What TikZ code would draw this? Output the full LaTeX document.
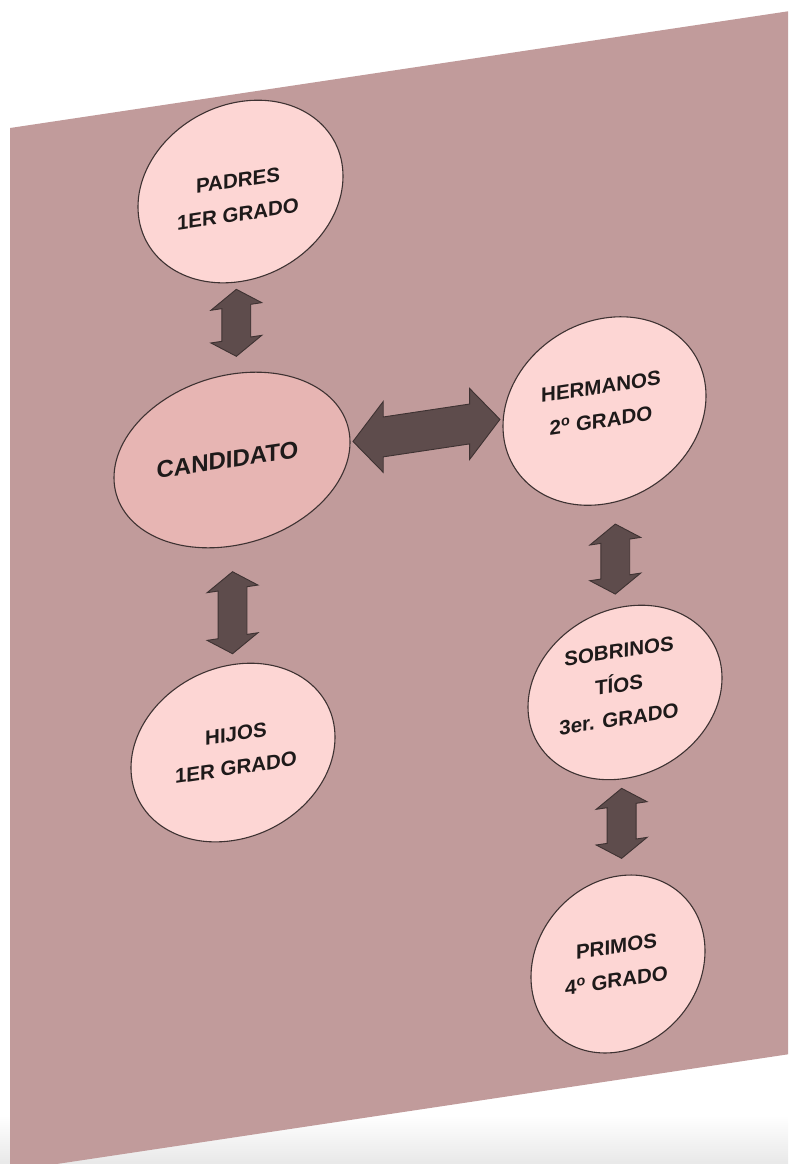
\documentclass[tikz,border=0pt]{standalone}
\usepackage{fontspec}
\setmainfont{Liberation Sans}
\usetikzlibrary{shapes.geometric,shapes.arrows,calc}
\definecolor{slide}{HTML}{C19B9B}
\definecolor{bubblefill}{HTML}{FDD6D4}
\definecolor{candfill}{HTML}{E7B5B3}
\definecolor{arrowfill}{HTML}{5E4C4C}
\definecolor{edge}{HTML}{3E3232}
\definecolor{ink}{HTML}{1E1A1A}
\begin{document}
\begin{tikzpicture}[x=1pt,y=-1pt,
  bubble/.style={ellipse,draw=edge,line width=1.1pt,fill=bubblefill,inner sep=0pt},
  txt/.style={align=center,text=ink,inner sep=0pt,font=\bfseries\fontsize{20.5}{34}\selectfont},
  vlink/.style={double arrow,draw=edge,line width=0.9pt,fill=arrowfill,rotate=90,
    inner xsep=0pt,inner ysep=14pt,double arrow head extend=11pt,
    minimum width=50pt,double arrow tip angle=112,minimum height=#1},
  hlink/.style={double arrow,draw=edge,line width=0.9pt,fill=arrowfill,
    inner xsep=0pt,inner ysep=19.5pt,double arrow head extend=15.5pt,
    minimum width=70pt,double arrow tip angle=99,minimum height=#1}]
\useasboundingbox (0,0) rectangle (788,1164);
\clip (0,0) rectangle (788,1164);
\shade[top color=white,bottom color=black!9] (0,1115) rectangle (788,1164);
\begin{scope}[cm={1,0.15,0,1,(0,0)},transform shape]
  \fill[slide] (10,129.5) rectangle (820,1172.5);
  % bubbles
  \node[bubble,minimum width=205pt,minimum height=180pt] (padres) at (240.5,227.6) {};
  \node[bubble,fill=candfill,minimum width=236pt,minimum height=172pt] (candidato) at (232,494.8) {};
  \node[bubble,minimum width=204pt,minimum height=176pt] (hijos) at (233,787.5) {};
  \node[bubble,minimum width=203pt,minimum height=186pt] (hermanos) at (604.5,501.7) {};
  \node[bubble,minimum width=194pt,minimum height=172pt] (sobrinos) at (625,786.2) {};
  \node[bubble,minimum width=174pt,minimum height=176pt] (primos) at (618,1056.7) {};
  % texts
  \node[txt] (padres-t) at (238,233) {PADRES\\1ER GRADO};
  \node[txt,font=\bfseries\fontsize{24}{28}\selectfont] (candidato-t) at (227.5,494) {CANDIDATO};
  \node[txt] (hijos-t) at (236,786) {HIJOS\\1ER GRADO};
  \node[txt] (hermanos-t) at (601,494) {HERMANOS\\2\textsuperscript{o} GRADO};
  \node[txt] (sobrinos-t) at (619,778) {SOBRINOS\\TÍOS\\3er. GRADO};
  \node[txt] (primos-t) at (616.5,1056) {PRIMOS\\4\textsuperscript{o} GRADO};
  % links
  \node[vlink=67pt] (l1) at ($(padres)!0.489!(candidato)$) {};
  \node[vlink=82pt] (l2) at ($(candidato)!0.522!(hijos)$) {};
  \node[hlink=147pt] (l3) at ($(candidato)!0.522!(hermanos)+(0,-4)$) {};
  \node[vlink=70pt] (l4) at ($(hermanos)!0.526!(sobrinos)$) {};
  \node[vlink=70pt] (l5) at ($(sobrinos)!0.482!(primos)$) {};
\end{scope}
\end{tikzpicture}
\end{document}
